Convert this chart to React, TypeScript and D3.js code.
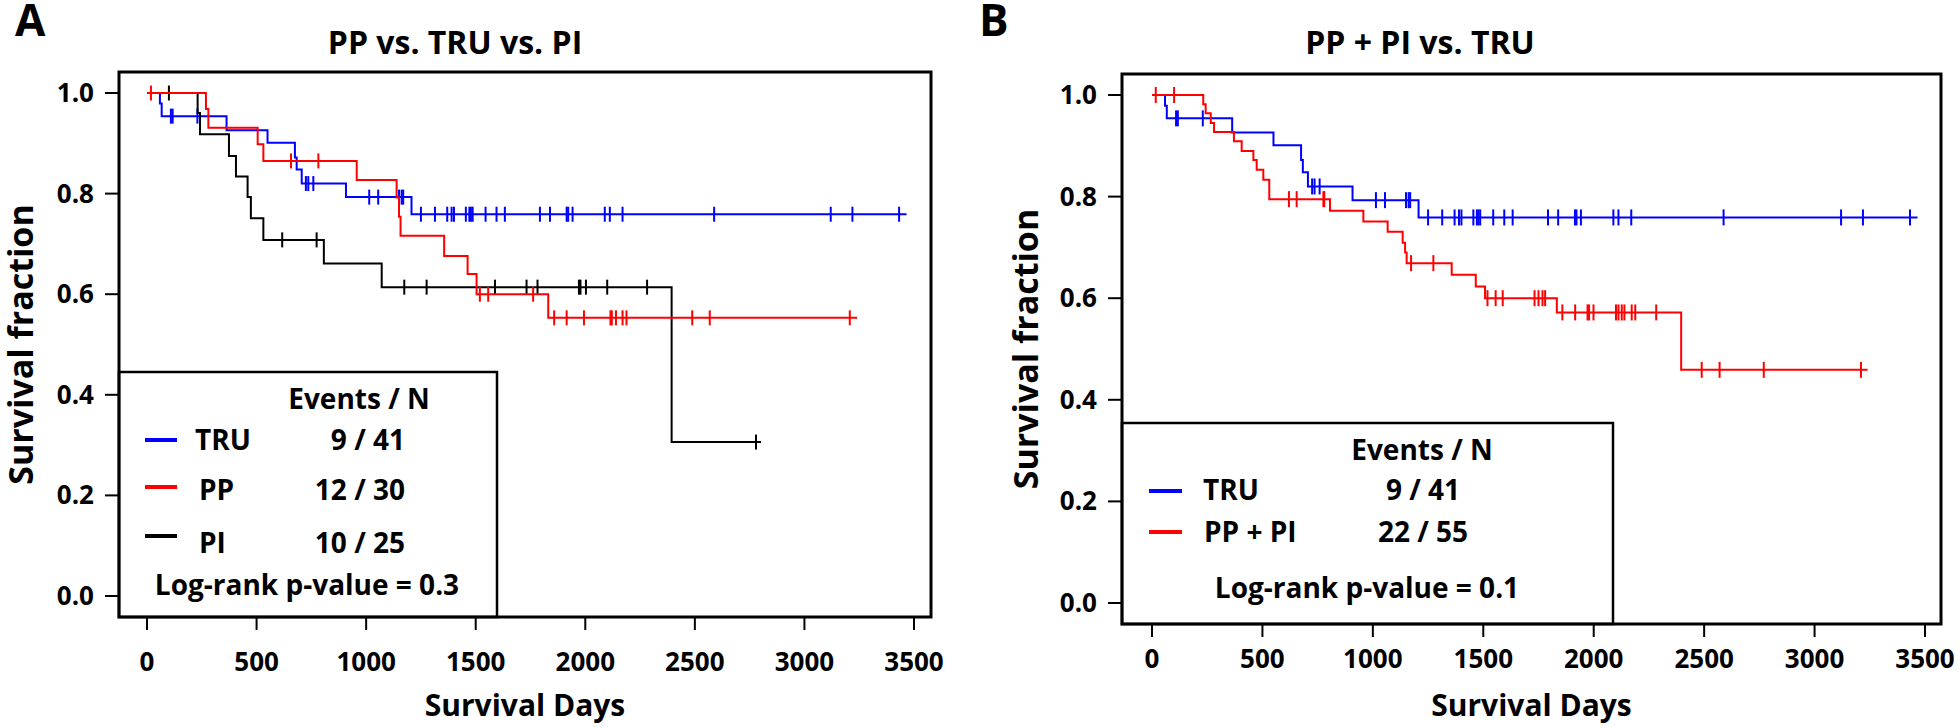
import React from 'react';
import * as d3 from 'd3';

// ---- data (days, survival fraction) ----
const xTicks = [0, 500, 1000, 1500, 2000, 2500, 3000, 3500];
const yTicks = [0, 0.2, 0.4, 0.6, 0.8, 1.0];

// TRU group (same curve in both panels)
const truTimes = [0, 59, 67, 363, 550, 675, 683, 706, 908, 1207];
const truSurv = [1, 0.979, 0.954, 0.926, 0.901, 0.872, 0.848, 0.82, 0.793, 0.759];
const truEnd = 3466;
const truCensor = [109, 117, 230, 725, 736, 759, 1014, 1055, 1150, 1162, 1169, 1250, 1314, 1370, 1390,
  1401, 1455, 1471, 1478, 1486, 1545, 1595, 1633, 1793, 1839, 1915, 1922, 1942, 2089, 2112, 2170,
  2588, 3120, 3219, 3432];

// PP group
const ppTimes = [0, 269, 280, 505, 531, 957, 1139, 1150, 1157, 1356, 1463, 1504, 1831];
const ppSurv = [1, 0.968, 0.931, 0.898, 0.865, 0.827, 0.792, 0.754, 0.716, 0.676, 0.64, 0.6, 0.553];
const ppEnd = 3240;
const ppCensor = [18, 657, 782, 1519, 1557, 1762, 1858, 1915, 1994, 2115, 2121, 2140, 2170, 2188,
  2488, 2568, 3207];

// PI group
const piTimes = [0, 231, 242, 374, 406, 459, 474, 531, 807, 1071, 2394];
const piSurv = [1, 0.96, 0.918, 0.875, 0.834, 0.793, 0.751, 0.708, 0.661, 0.614, 0.306];
const piEnd = 2802;
const piCensor = [100, 617, 774, 1174, 1276, 1588, 1732, 1782, 1971, 1978, 2003, 2100, 2282, 2779];

// PP + PI pooled group (panel B)
const ppiTimes = [0, 232, 243, 266, 281, 371, 406, 459, 474, 504, 531, 806, 957, 1067, 1135, 1146,
  1153, 1357, 1466, 1508, 1833, 2396];
const ppiSurv = [1, 0.982, 0.964, 0.945, 0.927, 0.909, 0.89, 0.872, 0.853, 0.833, 0.795, 0.772,
  0.751, 0.731, 0.709, 0.69, 0.669, 0.646, 0.623, 0.6, 0.572, 0.459];
const ppiEnd = 3240;
const ppiCensor = [17, 100, 620, 655, 776, 780, 1173, 1274, 1519, 1556, 1588, 1732, 1750, 1768, 1780,
  1858, 1916, 1972, 1979, 1999, 2101, 2112, 2127, 2139, 2172, 2188, 2283, 2489, 2570, 2770, 3210];

const legendNamesA = ['TRU', 'PP', 'PI'];
const legendCountsA = ['9 / 41', '12 / 30', '10 / 25'];
const legendNamesB = ['TRU', 'PP + PI'];
const legendCountsB = ['9 / 41', '22 / 55'];

const BLUE = '#0000ff';
const RED = '#ff0000';
const BLACK = '#000000';
const FONT = "'Open Sans', 'DejaVu Sans', sans-serif";

const curvesA = [
  { times: truTimes, surv: truSurv, end: truEnd, censor: truCensor, color: BLUE },
  { times: piTimes, surv: piSurv, end: piEnd, censor: piCensor, color: BLACK },
  { times: ppTimes, surv: ppSurv, end: ppEnd, censor: ppCensor, color: RED },
];
const curvesB = [
  { times: truTimes, surv: truSurv, end: truEnd, censor: truCensor, color: BLUE },
  { times: ppiTimes, surv: ppiSurv, end: ppiEnd, censor: ppiCensor, color: RED },
];

function survAt(times, surv, t) {
  const i = d3.bisectRight(times, t) - 1;
  return surv[Math.max(0, i)];
}

function Panel({ L, curves, letter, title, legend }) {
  const x = d3.scaleLinear().domain([0, 3500]).range(L.xr);
  const y = d3.scaleLinear().domain([0, 1]).range(L.yr);
  const line = d3.line().x(d => x(d[0])).y(d => y(d[1])).curve(d3.curveStepAfter);
  const [bx0, by0, bx1, by1] = L.box;
  const [lx0, ly0, lx1, ly1] = legend.box;

  return (
    <g fontFamily={FONT} fontWeight="bold">
      <text x={L.letterX} y={36} fontSize={44}>{letter}</text>
      <text x={L.titleX} y={54} fontSize={32} textAnchor="middle">{title}</text>

      {curves.map((c, i) => {
        const pts = c.times.map((t, j) => [t, c.surv[j]]);
        pts.push([c.end, c.surv[c.surv.length - 1]]);
        return (
          <g key={i}>
            <path d={line(pts)} fill="none" stroke={c.color} strokeWidth={2} />
            {c.censor.map((t, j) => {
              const cy = y(survAt(c.times, c.surv, t));
              return <line key={j} x1={x(t)} x2={x(t)} y1={cy - L.tick} y2={cy + L.tick}
                stroke={c.color} strokeWidth={2} />;
            })}
          </g>
        );
      })}

      {/* y axis */}
      {yTicks.map(v => (
        <g key={v}>
          <line x1={bx0 - 14} x2={bx0} y1={y(v)} y2={y(v)} stroke="#000" strokeWidth={2} />
          <text x={bx0 - 25} y={y(v) + 9} fontSize={26} textAnchor="end">{d3.format('.1f')(v)}</text>
        </g>
      ))}
      {/* x axis */}
      {xTicks.map(v => (
        <g key={v}>
          <line x1={x(v)} x2={x(v)} y1={by1} y2={by1 + 13} stroke="#000" strokeWidth={2} />
          <text x={x(v)} y={L.xTickY} fontSize={26} textAnchor="middle">{v}</text>
        </g>
      ))}
      <text x={(bx0 + bx1) / 2} y={L.xLabelY} fontSize={30} textAnchor="middle">Survival Days</text>
      <text transform={`translate(${L.yLabelX},${(by0 + by1) / 2}) rotate(-90)`} fontSize={34}
        textAnchor="middle">Survival fraction</text>

      {/* legend */}
      <rect x={lx0} y={ly0} width={lx1 - lx0} height={ly1 - ly0} fill="#fff" stroke="#000" strokeWidth={2.5} />
      <text x={legend.headX} y={legend.headY} fontSize={28} textAnchor="middle">Events / N</text>
      {legend.names.map((n, i) => (
        <g key={n}>
          <line x1={legend.lineX[0]} x2={legend.lineX[1]} y1={legend.lineY[i]} y2={legend.lineY[i]}
            stroke={legend.colors[i]} strokeWidth={4} />
          <text x={legend.nameX[i]} y={legend.rowY[i]} fontSize={28}>{n}</text>
          <text x={legend.countX} y={legend.rowY[i]} fontSize={28} textAnchor={legend.countAnchor}>
            {legend.counts[i]}
          </text>
        </g>
      ))}
      <text x={legend.pX} y={legend.pY} fontSize={28} textAnchor="middle">{legend.pText}</text>

      <rect x={bx0} y={by0} width={bx1 - bx0} height={by1 - by0} fill="none" stroke="#000" strokeWidth={3} />
    </g>
  );
}

export default function App() {
  const layoutA = { box: [119, 72, 931, 617], xr: [147, 914], yr: [596, 93], tick: 7.5,
    letterX: 15, titleX: 455, xTickY: 671, xLabelY: 716, yLabelX: 33 };
  const layoutB = { box: [1122, 74, 1941, 624], xr: [1152, 1925], yr: [603, 95], tick: 8,
    letterX: 979, titleX: 1420, xTickY: 668, xLabelY: 716, yLabelX: 1038 };
  const legendA = { box: [119, 372, 497, 617], headX: 359, headY: 409,
    names: legendNamesA, counts: legendCountsA, colors: [BLUE, RED, BLACK],
    lineX: [145, 177], lineY: [440, 487, 536], nameX: [195, 199, 199], rowY: [450, 500, 553],
    countX: 405, countAnchor: 'end', pX: 307, pY: 595, pText: 'Log-rank p-value = 0.3' };
  const legendB = { box: [1122, 423, 1613, 624], headX: 1422, headY: 460,
    names: legendNamesB, counts: legendCountsB, colors: [BLUE, RED],
    lineX: [1149, 1182], lineY: [491, 532], nameX: [1203, 1204], rowY: [500, 542],
    countX: 1423, countAnchor: 'middle', pX: 1367, pY: 598, pText: 'Log-rank p-value = 0.1' };

  return (
    <svg width={1960} height={728} style={{ position: 'absolute', left: 0, top: 0, background: '#fff' }}>
      <rect width={1960} height={728} fill="#fff" />
      <Panel L={layoutA} curves={curvesA} letter="A" title="PP vs. TRU vs. PI" legend={legendA} />
      <Panel L={layoutB} curves={curvesB} letter="B" title="PP + PI vs. TRU" legend={legendB} />
    </svg>
  );
}
